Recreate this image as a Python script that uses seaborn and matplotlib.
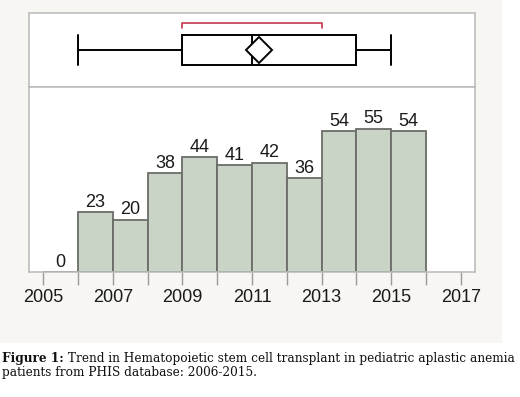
import numpy as np
import pandas as pd
import matplotlib
matplotlib.use("Agg")
import matplotlib.pyplot as plt
import seaborn as sns
from matplotlib.patches import Rectangle
from matplotlib.ticker import MultipleLocator

# yearly HSCT counts (2005 bin is empty)
years = [2006, 2007, 2008, 2009, 2010, 2011, 2012, 2013, 2014, 2015]
counts = [23, 20, 38, 44, 41, 42, 36, 54, 55, 54]
bin_edges = list(range(2005, 2017))
tick_years = [2005, 2007, 2009, 2011, 2013, 2015, 2017]

caption_bold = "Figure 1:"
caption_rest = " Trend in Hematopoietic stem cell transplant in pediatric aplastic anemia"
caption_line2 = "patients from PHIS database: 2006-2015."

df = pd.DataFrame({"year": years, "n": counts})
expanded = np.repeat(df["year"].values, df["n"].values)

sns.set_theme(style="white")
plt.rcParams["font.family"] = ["Liberation Sans", "DejaVu Sans"]

fig = plt.figure(figsize=(5.2, 3.97), dpi=100)
fig.patch.set_facecolor("white")
fig.patches.append(Rectangle((0, 1 - 343 / 397), 502 / 520, 343 / 397,
                             transform=fig.transFigure, facecolor="#f7f6f2",
                             edgecolor="none", zorder=-10))

left, width = 29 / 520, 446 / 520
ax_box = fig.add_axes([left, 1 - 87 / 397, width, 74 / 397])
ax = fig.add_axes([left, 1 - 272 / 397, width, 185 / 397], sharex=ax_box)

frame = "#bdbdbd"
xlim = (2004.59, 2017.41)

#--------Box plot (outlier box)--------
sns.boxplot(x=expanded, ax=ax_box, color="white", linecolor="black",
            width=0.4, whis=1.5, showfliers=False, showmeans=True, linewidth=1.4,
            meanprops=dict(marker="D", markerfacecolor="white",
                           markeredgecolor="black", markersize=13,
                           markeredgewidth=1.4))
med = np.median(expanded)
for ln in ax_box.lines:
    yd = np.asarray(ln.get_ydata(), dtype=float)
    xd = np.asarray(ln.get_xdata(), dtype=float)
    if len(xd) == 2 and xd[0] == xd[1] and yd[0] != yd[1] and xd[0] != med:
        # caps as tall as the box
        ln.set_ydata([-0.2, 0.2])

# shortest half bracket
srt = np.sort(expanded)
h = int(np.ceil(len(srt) / 2))
spans = srt[h - 1:] - srt[:len(srt) - h + 1]
i = int(np.argmin(spans))
lo, hi = srt[i], srt[i + h - 1]
ax_box.plot([lo, lo, hi, hi], [-0.3, -0.365, -0.365, -0.3], color="#c8465e", lw=1.3)

ax_box.set_ylim(0.5, -0.5)
ax_box.set_yticks([])
ax_box.tick_params(axis="x", bottom=False, labelbottom=False)
ax_box.set_xlabel("")

#--------Histogram--------
sns.histplot(x=years, weights=counts, bins=bin_edges, ax=ax,
             color="#c9d3c6", edgecolor="#6b6d69", linewidth=1.3, alpha=1)
ax.bar_label(ax.containers[0], fontsize=13, padding=1, color="#1a1a1a")
ax.set_ylim(0, 71)
ax.set_yticks([])
ax.set_ylabel("")
ax.set_xlabel("")
ax.set_xlim(*xlim)
ax.set_xticks(tick_years)
ax.xaxis.set_minor_locator(MultipleLocator(1))
ax.tick_params(axis="x", which="both", direction="out", length=9, width=1,
               color="#9a9a9a", bottom=True, labelsize=13, labelcolor="#1a1a1a", pad=3)

for a in (ax_box, ax):
    a.set_facecolor("white")
    for s in a.spines.values():
        s.set_visible(True)
        s.set_color(frame)
        s.set_linewidth(1.2)

#--------Caption--------
fs = 8.72
t = fig.text(2 / 520, 1 - 362 / 397, caption_bold, fontsize=fs, fontweight="bold",
             family="DejaVu Serif", va="baseline", color="#111111")
fig.canvas.draw()
bb = t.get_window_extent()
fig.text(bb.x1 / 520, 1 - 362 / 397, caption_rest, fontsize=fs,
         family="DejaVu Serif", va="baseline", color="#111111")
fig.text(2 / 520, 1 - 376 / 397, caption_line2, fontsize=fs,
         family="DejaVu Serif", va="baseline", color="#111111")

fig.savefig("out.png", dpi=100)
